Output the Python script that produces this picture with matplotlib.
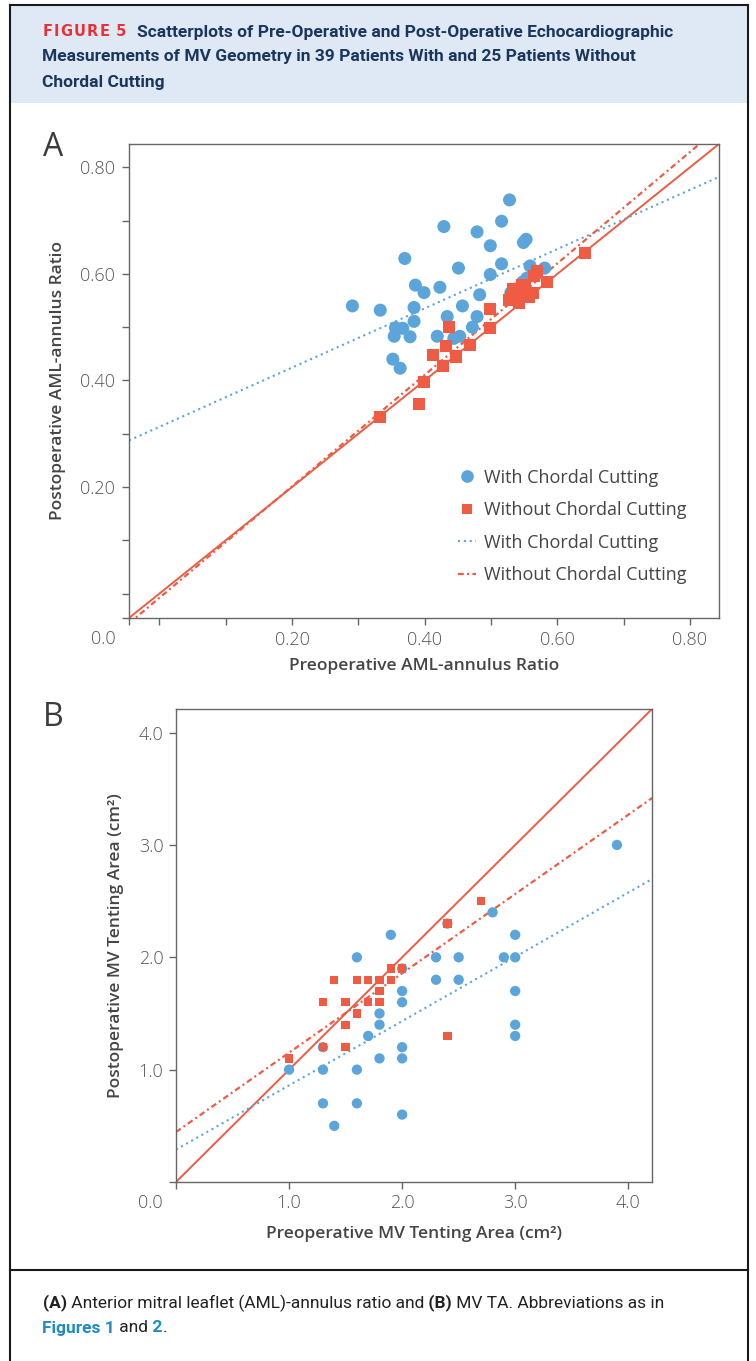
import matplotlib
matplotlib.use("Agg")
import matplotlib.pyplot as plt
import numpy as np
from matplotlib import font_manager
from matplotlib.lines import Line2D
from matplotlib.patches import Rectangle
from matplotlib.ticker import FixedLocator, FixedFormatter

# ---- panel A: AML-annulus ratio (pre vs post) ----
a_with_pre = [0.528, 0.429, 0.516, 0.479, 0.553, 0.549, 0.499, 0.370, 0.451, 0.516,
              0.559, 0.581, 0.499, 0.554, 0.386, 0.423, 0.399, 0.483, 0.291, 0.333,
              0.384, 0.457, 0.434, 0.479, 0.384, 0.472, 0.356, 0.367, 0.354, 0.378,
              0.419, 0.444, 0.453, 0.352, 0.363, 0.530, 0.548, 0.537, 0.565]
a_with_post = [0.739, 0.689, 0.699, 0.679, 0.665, 0.659, 0.653, 0.629, 0.611, 0.619,
               0.615, 0.611, 0.599, 0.592, 0.579, 0.575, 0.565, 0.561, 0.540, 0.532,
               0.537, 0.540, 0.520, 0.520, 0.511, 0.500, 0.499, 0.498, 0.483, 0.482,
               0.483, 0.479, 0.483, 0.440, 0.423, 0.565, 0.585, 0.572, 0.600]
a_without_pre = [0.333, 0.391, 0.399, 0.428, 0.413, 0.447, 0.432, 0.437, 0.468, 0.498,
                 0.498, 0.527, 0.534, 0.543, 0.547, 0.554, 0.564, 0.565, 0.569, 0.584,
                 0.642, 0.540, 0.552, 0.558, 0.531]
a_without_post = [0.331, 0.355, 0.398, 0.427, 0.447, 0.445, 0.465, 0.500, 0.467, 0.498,
                  0.534, 0.552, 0.571, 0.545, 0.579, 0.556, 0.565, 0.597, 0.605, 0.584,
                  0.640, 0.560, 0.575, 0.556, 0.556]
# regression lines (slope, intercept)
a_fit_with = (0.556, 0.313)
a_fit_without = (1.046, -0.008)
a_tick_vals = [0.0, 0.1, 0.2, 0.3, 0.4, 0.5, 0.6, 0.7, 0.8]
a_tick_labels = ["", "", "0.20", "", "0.40", "", "0.60", "", "0.80"]

# ---- panel B: MV tenting area (cm2) ----
b_with_pre = [3.9, 2.8, 2.4, 1.9, 3.0, 1.6, 2.3, 2.5, 2.9, 3.0, 2.0, 2.3, 2.5, 2.0, 3.0, 2.0,
              1.8, 1.8, 3.0, 1.7, 3.0, 1.3, 2.0, 1.8, 2.0, 1.0, 1.3, 1.6, 1.3, 1.6, 2.0, 1.4]
b_with_post = [3.0, 2.4, 2.3, 2.2, 2.2, 2.0, 2.0, 2.0, 2.0, 2.0, 1.9, 1.8, 1.8, 1.7, 1.7, 1.6,
               1.5, 1.4, 1.4, 1.3, 1.3, 1.2, 1.2, 1.1, 1.1, 1.0, 1.0, 1.0, 0.7, 0.7, 0.6, 0.5]
b_without_pre = [1.0, 1.3, 1.5, 1.5, 1.6, 1.3, 1.5, 1.7, 1.8, 1.8, 1.4, 1.6, 1.7, 1.8, 1.9,
                 1.9, 2.0, 2.4, 2.7, 2.4]
b_without_post = [1.1, 1.2, 1.2, 1.4, 1.5, 1.6, 1.6, 1.6, 1.6, 1.7, 1.8, 1.8, 1.8, 1.8, 1.8,
                  1.9, 1.9, 2.3, 2.5, 1.3]
b_fit_with = (0.572, 0.288)
b_fit_without = (0.706, 0.445)
b_tick_vals = [0.0, 1.0, 2.0, 3.0, 4.0]
b_tick_labels = ["", "1.0", "2.0", "3.0", "4.0"]

legend_labels = ["With Chordal Cutting", "Without Chordal Cutting",
                 "With Chordal Cutting", "Without Chordal Cutting"]

BLUE = "#5ba5da"
RED = "#ef5b43"
NAVY = "#1b365d"
TITLE_RED = "#e8323a"
TEAL = "#1e8bc3"
HEADER_BG = "#dfe9f5"
AXIS_GREY = "#666666"
TEXT_GREY = "#454545"
DOT = (0, (1, 1.8))
DASHDOT = (0, (2.6, 1.5, 0.9, 1.5))


def pick_font(*names):
    for n in names:
        try:
            font_manager.findfont(font_manager.FontProperties(family=n), fallback_to_default=False)
            return n
        except ValueError:
            pass
    return "DejaVu Sans"


SANS = pick_font("Open Sans", "Noto Sans", "Lato")
COND = pick_font("Liberation Sans Narrow", "Roboto", "Noto Sans")
plt.rcParams["font.family"] = [SANS, "DejaVu Sans"]

W, H = 756, 1361
fig = plt.figure(figsize=(W / 100, H / 100), dpi=100)
fig.patch.set_facecolor("white")
renderer = fig.canvas.get_renderer()


def fx(px):
    return px / W


def fy(py):
    return 1 - py / H


def draw_runs(x_px, y_px, runs, size, family, track=0.0):
    # runs of (text, weight, colour) laid out one after the other
    x = x_px
    for s, weight, color in runs:
        t = fig.text(fx(x), fy(y_px), s, fontsize=size, fontweight=weight, color=color,
                     family=family, va="center", ha="left")
        x += t.get_window_extent(renderer).width + track
    return x


# page frame + header box
fig.add_artist(Rectangle((fx(10), fy(103)), fx(748) - fx(10), fy(5) - fy(103),
                         transform=fig.transFigure, facecolor=HEADER_BG, edgecolor="none", zorder=0))
for xs, ys in [((10, 10), (5, 1361)), ((748, 748), (5, 1361)),
               ((10, 748), (5, 5)), ((10, 748), (1270, 1270))]:
    fig.add_artist(Line2D([fx(x) for x in xs], [fy(y) for y in ys],
                          transform=fig.transFigure, color="#1a1a1a", lw=1.5))

# title
draw_runs(42.5, 32, [(c, "bold", TITLE_RED) for c in ["F", "I", "G", "U", "R", "E", " 5"]],
          10.5, "DejaVu Sans", track=1.2)
title_lines = ["Scatterplots of Pre-Operative and Post-Operative Echocardiographic",
               "Measurements of MV Geometry in 39 Patients With and 25 Patients Without",
               "Chordal Cutting"]
fig.text(fx(136.7), fy(32), title_lines[0], color=NAVY, fontsize=12.5, fontweight="bold",
         family=COND, va="center", ha="left")
fig.text(fx(42.5), fy(57), title_lines[1], color=NAVY, fontsize=12.5, fontweight="bold",
         family=COND, va="center", ha="left")
fig.text(fx(42.5), fy(82), title_lines[2], color=NAVY, fontsize=12.5, fontweight="bold",
         family=COND, va="center", ha="left")

# caption
draw_runs(42.5, 1303, [("(A)", "bold", "#222222"),
                       (" Anterior mitral leaflet (AML)-annulus ratio and", "normal", "#222222"),
                       (" (B)", "bold", "#222222"),
                       (" MV TA. Abbreviations as in", "normal", "#222222")], 12.5, COND)
draw_runs(42.5, 1328, [("Figures 1", "bold", TEAL), (" and", "normal", "#222222"),
                       (" 2", "bold", TEAL), (".", "normal", "#222222")], 12.5, COND)

axA = fig.add_axes([fx(129), fy(618), fx(719) - fx(129), fy(144) - fy(618)])
axB = fig.add_axes([fx(176), fy(1182), fx(652) - fx(176), fy(709) - fy(1182)])


def style(ax, lo, hi, vals, labels, ypad):
    ax.set_xlim(lo, hi)
    ax.set_ylim(lo, hi)
    ticks = vals if vals[0] == lo else [lo] + vals
    labs = labels if vals[0] == lo else [""] + labels
    for axis in (ax.xaxis, ax.yaxis):
        axis.set_major_locator(FixedLocator(ticks))
        axis.set_major_formatter(FixedFormatter(labs))
    for sp in ax.spines.values():
        sp.set_color(AXIS_GREY)
        sp.set_linewidth(1.0)
    ax.tick_params(direction="out", length=5, width=1.0, color=AXIS_GREY,
                   labelcolor="#555555", labelsize=13)
    ax.tick_params(axis="x", pad=4)
    ax.tick_params(axis="y", pad=ypad)
    for lbl in ax.get_xticklabels() + ax.get_yticklabels():
        lbl.set_fontweight("light")
    ax.annotate("0.0", xy=(0, 0), xycoords="axes fraction", xytext=(-13, -12),
                textcoords="offset pixels", ha="right", va="top", fontsize=13,
                color="#555555", fontweight="light")


# panel A
lo_a, hi_a = -0.046, 0.844
style(axA, lo_a, hi_a, a_tick_vals, a_tick_labels, 5)
xa = np.array([lo_a, hi_a])
axA.plot(xa, xa, color=RED, lw=1.4, zorder=2)
axA.plot(xa, a_fit_with[0] * xa + a_fit_with[1], color=BLUE, lw=1.5, ls=DOT, zorder=2)
axA.plot(xa, a_fit_without[0] * xa + a_fit_without[1], color=RED, lw=1.6, ls=DASHDOT, zorder=2)
axA.scatter(a_with_pre, a_with_post, s=88, color=BLUE, edgecolors="none", zorder=3)
axA.scatter(a_without_pre, a_without_post, s=75, marker="s", color=RED, edgecolors="none", zorder=4)
axA.set_xlabel("Preoperative AML-annulus Ratio", fontsize=12.5, fontweight="semibold", color=TEXT_GREY)
axA.set_ylabel("Postoperative AML-annulus Ratio", fontsize=12.5, fontweight="semibold", color=TEXT_GREY)
axA.xaxis.set_label_coords(0.5, -0.084)
axA.yaxis.set_label_coords(-0.107, 0.5)

handles = [Line2D([], [], marker="o", ls="none", color=BLUE, markersize=9.1, markeredgewidth=0),
           Line2D([], [], marker="s", ls="none", color=RED, markersize=7.9, markeredgewidth=0),
           Line2D([], [], color=BLUE, lw=1.5, ls=DOT),
           Line2D([], [], color=RED, lw=1.6, ls=DASHDOT)]
leg = axA.legend(handles, legend_labels, loc="upper left", bbox_to_anchor=(0.558, 0.315),
                 frameon=False, borderaxespad=0, borderpad=0, handlelength=1.0,
                 handletextpad=0.45, labelspacing=0.8, fontsize=13)
for t in leg.get_texts():
    t.set_color(TEXT_GREY)

# panel B
lo_b, hi_b = 0.0, 4.21
style(axB, lo_b, hi_b, b_tick_vals, b_tick_labels, 4)
xb = np.array([lo_b, hi_b])
axB.plot(xb, xb, color=RED, lw=1.4, zorder=2)
axB.plot(xb, b_fit_with[0] * xb + b_fit_with[1], color=BLUE, lw=1.5, ls=DOT, zorder=2)
axB.plot(xb, b_fit_without[0] * xb + b_fit_without[1], color=RED, lw=1.6, ls=DASHDOT, zorder=2)
axB.scatter(b_with_pre, b_with_post, s=55, color=BLUE, edgecolors="none", zorder=3)
axB.scatter(b_without_pre, b_without_post, s=36, marker="s", color=RED, edgecolors="none", zorder=4)
axB.set_xlabel("Preoperative MV Tenting Area (cm\u00b2)", fontsize=12.5, fontweight="semibold", color=TEXT_GREY)
axB.set_ylabel("Postoperative MV Tenting Area (cm\u00b2)", fontsize=12.5, fontweight="semibold", color=TEXT_GREY)
axB.xaxis.set_label_coords(0.5, -0.093)
axB.yaxis.set_label_coords(-0.109, 0.5)

# panel letters
fig.text(fx(53), fy(148), "A", fontsize=23, color="#3c3c3c", ha="center", va="center")
fig.text(fx(53), fy(718), "B", fontsize=23, color="#3c3c3c", ha="center", va="center")

fig.savefig("out.png", dpi=100)
